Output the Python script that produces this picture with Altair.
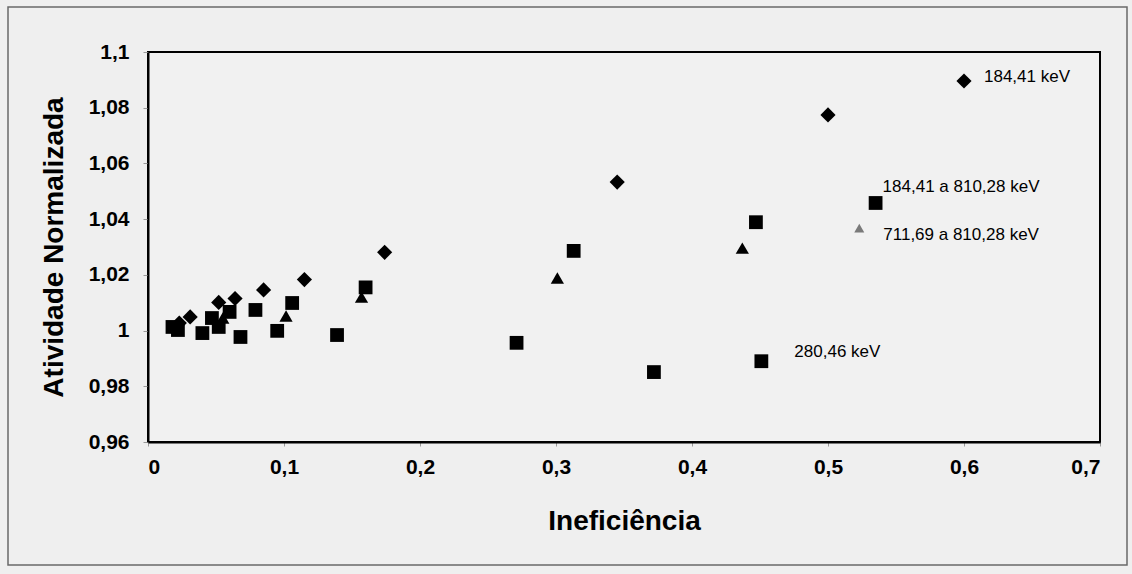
import altair as alt
import pandas as pd

# Series: normalized activity vs. inefficiency
series_names = ["184,41 keV", "184,41 a 810,28 keV", "711,69 a 810,28 keV", "280,46 keV"]

x_184 = [0.023, 0.031, 0.052, 0.064, 0.085, 0.115, 0.174, 0.345, 0.500, 0.600]
y_184 = [1.0027, 1.0049, 1.0101, 1.0115, 1.0146, 1.0183, 1.0281, 1.0533, 1.0774, 1.0896]

x_184_810 = [0.018, 0.047, 0.060, 0.079, 0.106, 0.160, 0.313, 0.447, 0.535]
y_184_810 = [1.0013, 1.0045, 1.0067, 1.0074, 1.0099, 1.0155, 1.0286, 1.0389, 1.0458]

x_711_810 = [0.055, 0.1015, 0.157, 0.301, 0.437, 0.523]
y_711_810 = [1.0045, 1.0052, 1.0120, 1.0189, 1.0296, 1.0368]

x_280 = [0.022, 0.040, 0.052, 0.068, 0.095, 0.139, 0.271, 0.372, 0.451]
y_280 = [1.0002, 0.9991, 1.0013, 0.9977, 0.9999, 0.9984, 0.9956, 0.9851, 0.9890]

x_ticks = [0, 0.1, 0.2, 0.3, 0.4, 0.5, 0.6, 0.7]
y_ticks = [0.96, 0.98, 1.0, 1.02, 1.04, 1.06, 1.08, 1.1]

rows = []
for name, xs, ys in zip(series_names,
                        [x_184, x_184_810, x_711_810, x_280],
                        [y_184, y_184_810, y_711_810, y_280]):
    for i, (xv, yv) in enumerate(zip(xs, ys)):
        rows.append({"serie": name, "x": xv, "y": yv,
                     "ultimo": i == len(xs) - 1})
df = pd.DataFrame(rows)

FONT = "Liberation Sans"
comma = "replace(format(datum.value, '.2~f'), '.', ',')"

x_enc = alt.X("x:Q",
              scale=alt.Scale(domain=[0, 0.7], nice=False, zero=False),
              axis=alt.Axis(values=x_ticks, labelExpr=comma, title="Ineficiência",
                            grid=False, tickSize=4, labelPadding=10,
                            titlePadding=30))
y_enc = alt.Y("y:Q",
              scale=alt.Scale(domain=[0.96, 1.1], nice=False, zero=False),
              axis=alt.Axis(values=y_ticks, labelExpr=comma,
                            title="Atividade Normalizada",
                            grid=False, tickSize=5, labelPadding=14,
                            titlePadding=20))

base = alt.Chart(df)

shape_style = {
    "184,41 keV": ("diamond", 230),
    "184,41 a 810,28 keV": ("square", 190),
    "711,69 a 810,28 keV": ("triangle-up", 175),
    "280,46 keV": ("square", 190),
}

layers = []

# outer frame around the whole figure
frame = alt.Chart(pd.DataFrame({"k": [0]})).mark_rect(
    fill=None, stroke="#6a6a6a", strokeWidth=1.5
).encode(
    x=alt.value(-140), x2=alt.value(979),
    y=alt.value(-45), y2=alt.value(513),
)
layers.append(frame)

for name in series_names:
    shp, sz = shape_style[name]
    sub = base.transform_filter(alt.datum.serie == name)
    if name == "711,69 a 810,28 keV":
        pts = sub.mark_point(shape=shp, filled=True, opacity=1).encode(
            x=x_enc, y=y_enc,
            color=alt.condition(alt.datum.ultimo, alt.value("#7a7a7a"), alt.value("black")),
            size=alt.condition(alt.datum.ultimo, alt.value(100), alt.value(sz)),
        )
    else:
        pts = sub.mark_point(shape=shp, filled=True, size=sz, opacity=1,
                             color="black").encode(x=x_enc, y=y_enc)
    layers.append(pts)

# series labels next to the last point of each series
label_offsets = {
    "184,41 keV": (20, -4),
    "184,41 a 810,28 keV": (7, -16),
    "711,69 a 810,28 keV": (24, 7),
    "280,46 keV": (33, -9),
}
for name in series_names:
    dx, dy = label_offsets[name]
    txt = base.transform_filter(
        (alt.datum.serie == name) & alt.datum.ultimo
    ).mark_text(align="left", baseline="middle", dx=dx, dy=dy,
                font=FONT, fontSize=17, color="black").encode(
        x=x_enc, y=y_enc, text="serie:N")
    layers.append(txt)

chart = alt.layer(*layers).properties(
    width=952, height=390,
    background="#efefef",
    padding={"left": 148, "top": 52, "right": 32, "bottom": 132},
    autosize=alt.AutoSizeParams(type="none"),
).configure_view(
    stroke="black", strokeWidth=2, fill="#f1f1f1"
).configure_axis(
    domainColor="black", domainWidth=2,
    tickColor="#999999",
    labelFont=FONT, labelFontSize=21, labelFontWeight="bold", labelColor="black",
    titleFont=FONT, titleFontWeight="bold", titleColor="black",
).configure_axisX(
    titleFontSize=28
).configure_axisY(
    titleFontSize=28
)

chart.save("out.html", embed_options={"renderer": "svg", "actions": False})
